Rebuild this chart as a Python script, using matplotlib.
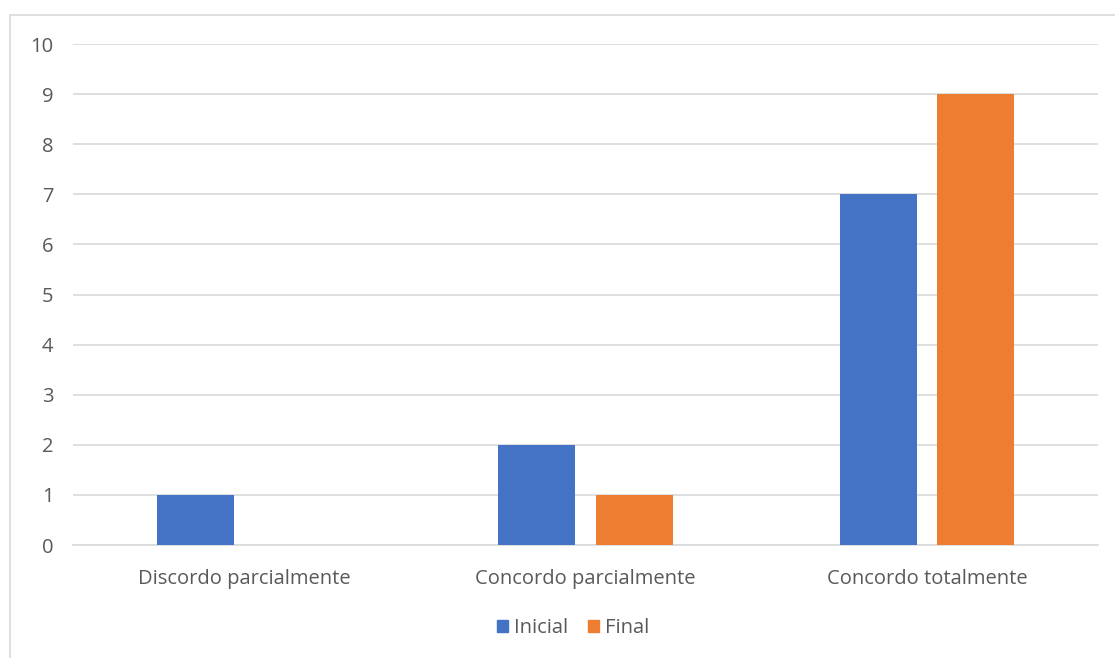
import numpy as np
import matplotlib
matplotlib.use("Agg")
import matplotlib.pyplot as plt
from matplotlib.patches import Rectangle, Patch

# Data
categories = ["Discordo parcialmente", "Concordo parcialmente", "Concordo totalmente"]
inicial = [1, 2, 7]
final = [0, 1, 9]
series_names = ["Inicial", "Final"]

BLUE = "#4472C4"
ORANGE = "#ED7D31"
GRID = "#D9D9D9"
TEXT = "#595959"

plt.rcParams["font.family"] = ["Open Sans", "DejaVu Sans"]

fig = plt.figure(figsize=(11.15, 6.58), dpi=100)
ax = fig.add_axes([0.0655, 0.1717, 0.9193, 0.7614])

# Chart border
fig.patches.append(Rectangle((10 / 1115, -0.1), 1.2, 1 - 15 / 658 + 0.1,
                             transform=fig.transFigure, fill=False,
                             edgecolor=GRID, linewidth=1.2))

x = np.arange(len(categories))
width = 0.225
offset = 0.1425
ax.bar(x - offset, inicial, width, color=BLUE, zorder=3)
ax.bar(x + offset, final, width, color=ORANGE, zorder=3)

ax.set_xlim(-0.5, len(categories) - 0.5)
ax.set_ylim(0, 10)
ax.set_yticks(range(0, 11))
ax.yaxis.grid(True, color=GRID, linewidth=1.2, zorder=0)
ax.tick_params(axis="y", length=0, pad=14, labelsize=14.5, labelcolor=TEXT)
ax.tick_params(axis="x", length=0, pad=17, labelsize=14.5, labelcolor=TEXT)
ax.set_xticks(x)
ax.set_xticklabels(categories)
for side in ["top", "right", "left"]:
    ax.spines[side].set_visible(False)
ax.spines["bottom"].set_color(GRID)
ax.spines["bottom"].set_linewidth(1.2)

handles = [Patch(color=BLUE), Patch(color=ORANGE)]
fig.legend(handles, series_names, loc="center", bbox_to_anchor=(573 / 1115, 1 - 628 / 658),
           ncol=2, frameon=False, fontsize=14.5, labelcolor=TEXT,
           handlelength=0.55, handleheight=0.55, handletextpad=0.3, columnspacing=1.0)

fig.savefig("out.png", dpi=100)
